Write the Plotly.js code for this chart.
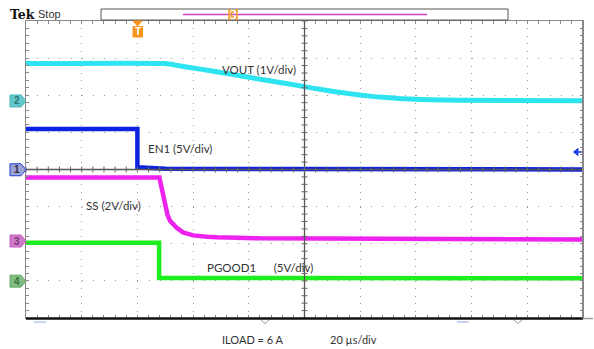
<!DOCTYPE html>
<html>
<head>
<meta charset="utf-8">
<script src="https://cdn.plot.ly/plotly-3.0.1.min.js"></script>
<style>html,body{margin:0;padding:0;background:#fff;}#chart{width:594px;height:349px;}</style>
</head>
<body>
<div id="chart"></div>
<script>
// ---- Data (time in µs, values in volts) ----
const VOUT_t = [-100, -50, -45, -37.5, -30, -20, -12, 0, 6, 16, 25, 34, 45, 55, 100];
const VOUT_v = [1.0, 1.0, 0.94, 0.85, 0.76, 0.63, 0.53, 0.38, 0.30, 0.19, 0.11, 0.06, 0.025, 0.01, 0.0];

const EN1_t = [-100, -60, -60, -50, 100];
const EN1_v = [5.45, 5.45, 0.30, 0.10, 0.0];

const SS_t = [-100, -52.1, -51.6, -51.0, -50.1, -49.2, -48.3, -47.0, -45.9, -43.6, -40.0, -35.0, -31.4, -16, 100];
const SS_v = [3.41, 3.41, 3.05, 2.60, 1.85, 1.40, 1.08, 0.86, 0.70, 0.45, 0.29, 0.22, 0.19, 0.13, 0.07];

const PG_t = [-100, -52.2, -52.2, 100];
const PG_v = [5.12, 5.12, 0.40, 0.35];

const labels = {vout: 'VOUT (1V/div)', en1: 'EN1 (5V/div)', ss: 'SS (2V/div)',
                pg: 'PGOOD1&nbsp;&nbsp;&nbsp;&nbsp;&nbsp;&nbsp;(5V/div)',
                iload: 'ILOAD = 6 A', tdiv: '20 µs/div'};

// scope settings: volts/div and ground offset (divisions from centre)
const CH = {
  1: {scale: 5, offset: 0},
  2: {scale: 1, offset: 1.853},
  3: {scale: 2, offset: -1.92},
  4: {scale: 5, offset: -3.0}
};
const toDiv = (v, ch) => v.map(x => CH[ch].offset + x / CH[ch].scale);

// ---- geometry helpers (pixel -> paper) ----
const L = 26, T = 21, W = 557, H = 297;
const px = p => (p - L) / W;
const py = p => 1 - (p - T) / H;

const traces = [
  {x: EN1_t, y: toDiv(EN1_v, 1), mode: 'lines', line: {color: '#0c22e0', width: 4.5}, hoverinfo: 'skip'},
  {x: VOUT_t, y: toDiv(VOUT_v, 2), mode: 'lines', line: {color: '#2ee4f0', width: 5, shape: 'spline', smoothing: 0.4}, hoverinfo: 'skip'},
  {x: SS_t, y: toDiv(SS_v, 3), mode: 'lines', line: {color: '#ee22ee', width: 4.5}, hoverinfo: 'skip'},
  {x: PG_t, y: toDiv(PG_v, 4), mode: 'lines', line: {color: '#1eee1e', width: 4.5}, hoverinfo: 'skip'}
];

const shapes = [];
// centre graticule lines with ticks
shapes.push({type: 'line', xref: 'x', yref: 'paper', x0: 0, x1: 0, y0: 0, y1: 1, line: {color: '#555', width: 1.3}, layer: 'above'});
shapes.push({type: 'line', xref: 'paper', yref: 'y', x0: 0, x1: 1, y0: 0, y1: 0, line: {color: '#555', width: 1.3}, layer: 'above'});
for (let k = 0; k <= 50; k++) {
  const x = -100 + 4 * k;
  shapes.push({type: 'line', xref: 'x', yref: 'y', x0: x, x1: x, y0: -0.08, y1: 0.08, line: {color: '#666', width: 1}, layer: 'above'});
}
for (let k = 0; k <= 40; k++) {
  const y = -4 + 0.2 * k;
  shapes.push({type: 'line', xref: 'x', yref: 'y', x0: -1.1, x1: 1.1, y0: y, y1: y, line: {color: '#666', width: 1}, layer: 'above'});
}
// thick bottom border & right border
shapes.push({type: 'line', xref: 'paper', yref: 'paper', x0: 0, x1: 1, y0: py(318.5), y1: py(318.5), line: {color: '#111', width: 2.5}, layer: 'above'});
shapes.push({type: 'line', xref: 'paper', yref: 'paper', x0: px(583), x1: px(593), y0: py(318.5), y1: py(318.5), line: {color: '#999', width: 1.5}, layer: 'above'});
shapes.push({type: 'line', xref: 'paper', yref: 'paper', x0: px(583), x1: px(583), y0: py(318.5), y1: 1, line: {color: '#888', width: 2}, layer: 'above'});

// top record bar
shapes.push({type: 'rect', xref: 'paper', yref: 'paper', x0: px(101), x1: px(508), y0: py(20), y1: py(9), line: {color: '#555', width: 1}, fillcolor: '#fff'});
shapes.push({type: 'line', xref: 'paper', yref: 'paper', x0: px(183), x1: px(427), y0: py(14.5), y1: py(14.5), line: {color: '#cc44cc', width: 1.5}});
shapes.push({type: 'path', xref: 'paper', yref: 'paper',
  path: `M${px(231)},${py(10)} L${px(229)},${py(10)} L${px(229)},${py(19)} L${px(231)},${py(19)} M${px(235)},${py(10)} L${px(237)},${py(10)} L${px(237)},${py(19)} L${px(235)},${py(19)} M${px(234)},${py(12)} L${px(231.5)},${py(12)} L${px(231.5)},${py(17)} L${px(234)},${py(17)}`,
  line: {color: '#f39a1e', width: 1.5}});

// trigger "T" marker
shapes.push({type: 'path', xref: 'paper', yref: 'paper',
  path: `M${px(133)},${py(21)} L${px(142)},${py(21)} L${px(137.5)},${py(26)} Z`, fillcolor: '#f7941d', line: {color: '#f7941d', width: 1}});
shapes.push({type: 'rect', xref: 'paper', yref: 'paper', x0: px(133), x1: px(142.5), y0: py(37), y1: py(26.5), fillcolor: '#f7941d', line: {color: '#f7941d', width: 1}});

// trigger level arrow on right
shapes.push({type: 'path', xref: 'paper', yref: 'paper',
  path: `M${px(573.5)},${py(152)} L${px(578)},${py(148.5)} L${px(578)},${py(155.5)} Z`, fillcolor: '#1f3fe0', line: {color: '#1f3fe0', width: 1}});
shapes.push({type: 'line', xref: 'paper', yref: 'paper', x0: px(577), x1: px(582), y0: py(152), y1: py(152), line: {color: '#1f3fe0', width: 1.5}});

// bottom markers
shapes.push({type: 'line', xref: 'paper', yref: 'paper', x0: px(34), x1: px(46), y0: py(322), y1: py(322), line: {color: '#b8c4f0', width: 1.5}});
shapes.push({type: 'line', xref: 'paper', yref: 'paper', x0: px(457), x1: px(469), y0: py(322), y1: py(322), line: {color: '#b8c4f0', width: 1.5}});
[265, 518].forEach(xp => shapes.push({type: 'path', xref: 'paper', yref: 'paper',
  path: `M${px(xp - 4)},${py(320)} L${px(xp)},${py(323.5)} L${px(xp + 4)},${py(320)}`, line: {color: '#999', width: 1}}));

// channel tags on the left
const tagDefs = [
  {n: '2', ch: 2, fill: '#62c8cc', line: '#4ab5b8', txt: '#2f7476'},
  {n: '1', ch: 1, fill: '#9ea3cf', line: '#1f3fe0', txt: '#2a2a55'},
  {n: '3', ch: 3, fill: '#cf78c9', line: '#c060c0', txt: '#7a3a76'},
  {n: '4', ch: 4, fill: '#80bb80', line: '#66aa66', txt: '#3d6e3d'}
];
const annotations = [];
tagDefs.forEach(t => {
  const yc = 169.75 - CH[t.ch].offset * 37.125;
  shapes.push({type: 'path', xref: 'paper', yref: 'paper',
    path: `M${px(10)},${py(yc - 6)} L${px(21)},${py(yc - 6)} L${px(26)},${py(yc)} L${px(21)},${py(yc + 6)} L${px(10)},${py(yc + 6)} Z`,
    fillcolor: t.fill, line: {color: t.line, width: 1}});
  annotations.push({xref: 'paper', yref: 'paper', x: px(16.5), y: py(yc), text: '<b>' + t.n + '</b>', showarrow: false,
    xanchor: 'center', yanchor: 'middle', font: {family: 'Liberation Sans, sans-serif', size: 10, color: t.txt}});
});

const lblFont = {family: 'Lato, Liberation Sans, sans-serif', size: 11.5, color: '#333'};
function lbl(text, xp, yp, size) {
  annotations.push({xref: 'paper', yref: 'paper', x: px(xp), y: py(yp), text: text, showarrow: false,
    xanchor: 'left', yanchor: 'middle', font: Object.assign({}, lblFont, size ? {size: size} : {}), borderpad: 0});
}
lbl(labels.vout, 221, 69);
lbl(labels.en1, 147, 148);
lbl(labels.ss, 85, 205);
lbl(labels.pg, 206, 267);
lbl(labels.iload, 221, 339, 11);
lbl(labels.tdiv, 329, 339, 11);

annotations.push({xref: 'paper', yref: 'paper', x: px(137.7), y: py(32), text: '<b>T</b>', showarrow: false,
  xanchor: 'center', yanchor: 'middle', font: {family: 'Liberation Sans, sans-serif', size: 10, color: '#fff'}});
annotations.push({xref: 'paper', yref: 'paper', x: px(9), y: py(14), text: '<b>Tek</b>', showarrow: false,
  xanchor: 'left', yanchor: 'middle', borderpad: 0, font: {family: 'DejaVu Serif, Liberation Serif, serif', size: 12.5, color: '#111'}});
annotations.push({xref: 'paper', yref: 'paper', x: px(37), y: py(14), text: 'Stop', showarrow: false,
  xanchor: 'left', yanchor: 'middle', borderpad: 0, font: {family: 'Liberation Sans, sans-serif', size: 11, color: '#333'}});

const layout = {
  width: 594, height: 349,
  margin: {l: L, r: 594 - L - W, t: T, b: 349 - T - H, pad: 0},
  paper_bgcolor: '#fff', plot_bgcolor: '#fff',
  showlegend: false,
  xaxis: {range: [-100, 100], dtick: 20, tick0: -100, showgrid: true, gridcolor: '#999', gridwidth: 1,
    griddash: '1px,6.425px', zeroline: false, showline: true, linecolor: '#888', linewidth: 1, mirror: 'allticks',
    ticks: 'inside', ticklen: 3, tickcolor: '#888', showticklabels: false,
    minor: {dtick: 4, tick0: -100, ticks: 'inside', ticklen: 3, tickcolor: '#888', showgrid: false}, fixedrange: true},
  yaxis: {range: [-4, 4], dtick: 1, tick0: -4, showgrid: true, gridcolor: '#999', gridwidth: 1,
    griddash: '1px,10.14px', zeroline: false, showline: true, linecolor: '#888', linewidth: 1, mirror: 'allticks',
    ticks: 'inside', ticklen: 3, tickcolor: '#888', showticklabels: false,
    minor: {dtick: 0.2, tick0: -4, ticks: 'inside', ticklen: 3, tickcolor: '#888', showgrid: false}, fixedrange: true},
  shapes: shapes,
  annotations: annotations
};

Plotly.newPlot('chart', traces, layout, {displayModeBar: false, staticPlot: true});
</script>
</body>
</html>
